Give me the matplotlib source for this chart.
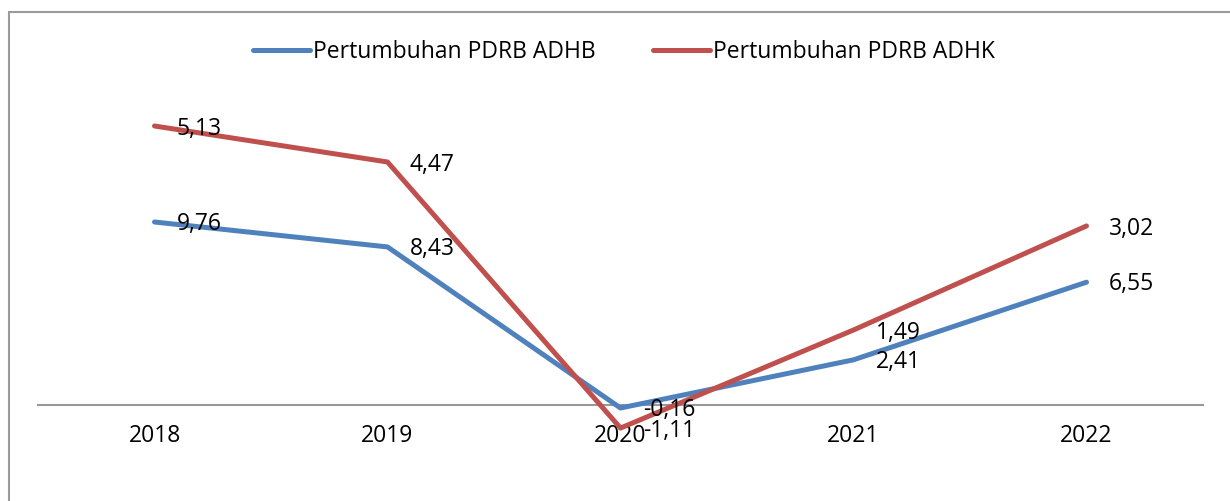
import matplotlib
matplotlib.use("Agg")
from matplotlib import pyplot as plt
from matplotlib.patches import Rectangle

plt.rcParams['font.family'] = ['Open Sans', 'DejaVu Sans']

# data
tahun = ["2018", "2019", "2020", "2021", "2022"]
adhb = [9.76, 8.43, -0.16, 2.41, 6.55]
adhb_label = ["9,76", "8,43", "-0,16", "2,41", "6,55"]
# posisi garis ADHK (skala sumbu yang sama)
adhk = [14.88, 12.96, -1.23, 4.0, 9.55]
adhk_label = ["5,13", "4,47", "-1,11", "1,49", "3,02"]

biru = "#4F81BD"
merah = "#C0504D"
fs = 16.5

fig = plt.figure(figsize=(12.3, 5.01), dpi=100)
ax = fig.add_axes([38/1230, 21/501, 1165/1230, 390/501])

x = range(len(tahun))
ax.plot(x, adhb, color=biru, lw=3.6, label="Pertumbuhan PDRB ADHB", solid_capstyle='round')
ax.plot(x, adhk, color=merah, lw=3.6, label="Pertumbuhan PDRB ADHK", solid_capstyle='round')

for i in x:
    ax.annotate(adhb_label[i], (i, adhb[i]), xytext=(16, -1.5), textcoords='offset points',
                ha='left', va='center', fontsize=fs)
    ax.annotate(adhk_label[i], (i, adhk[i]), xytext=(16, -2), textcoords='offset points',
                ha='left', va='center', fontsize=fs)

ax.set_xlim(-0.5, 4.5)
ax.set_ylim(-4.0, 16.8)
for s in ax.spines.values():
    s.set_visible(False)
ax.spines['bottom'].set_visible(True)
ax.spines['bottom'].set_position(('data', 0))
ax.spines['bottom'].set_color('#999999')
ax.spines['bottom'].set_linewidth(1.5)
ax.spines['bottom'].set_zorder(0)
ax.set_xticks(list(x))
ax.set_xticklabels(tahun)
ax.tick_params(axis='x', length=0, pad=14, labelsize=fs)
ax.set_yticks([])

fig.legend(loc='center', bbox_to_anchor=(0.507, 1 - 52/501), ncol=2, frameon=False,
           fontsize=fs, handlelength=2.5, handletextpad=0.12, columnspacing=2.5)

fig.patches.append(Rectangle((9/1230, -0.1), 1.2, 1 - 12/501 + 0.1, transform=fig.transFigure,
                             fill=False, edgecolor='#9a9a9a', lw=1.5))

fig.savefig("out.png", dpi=100)
